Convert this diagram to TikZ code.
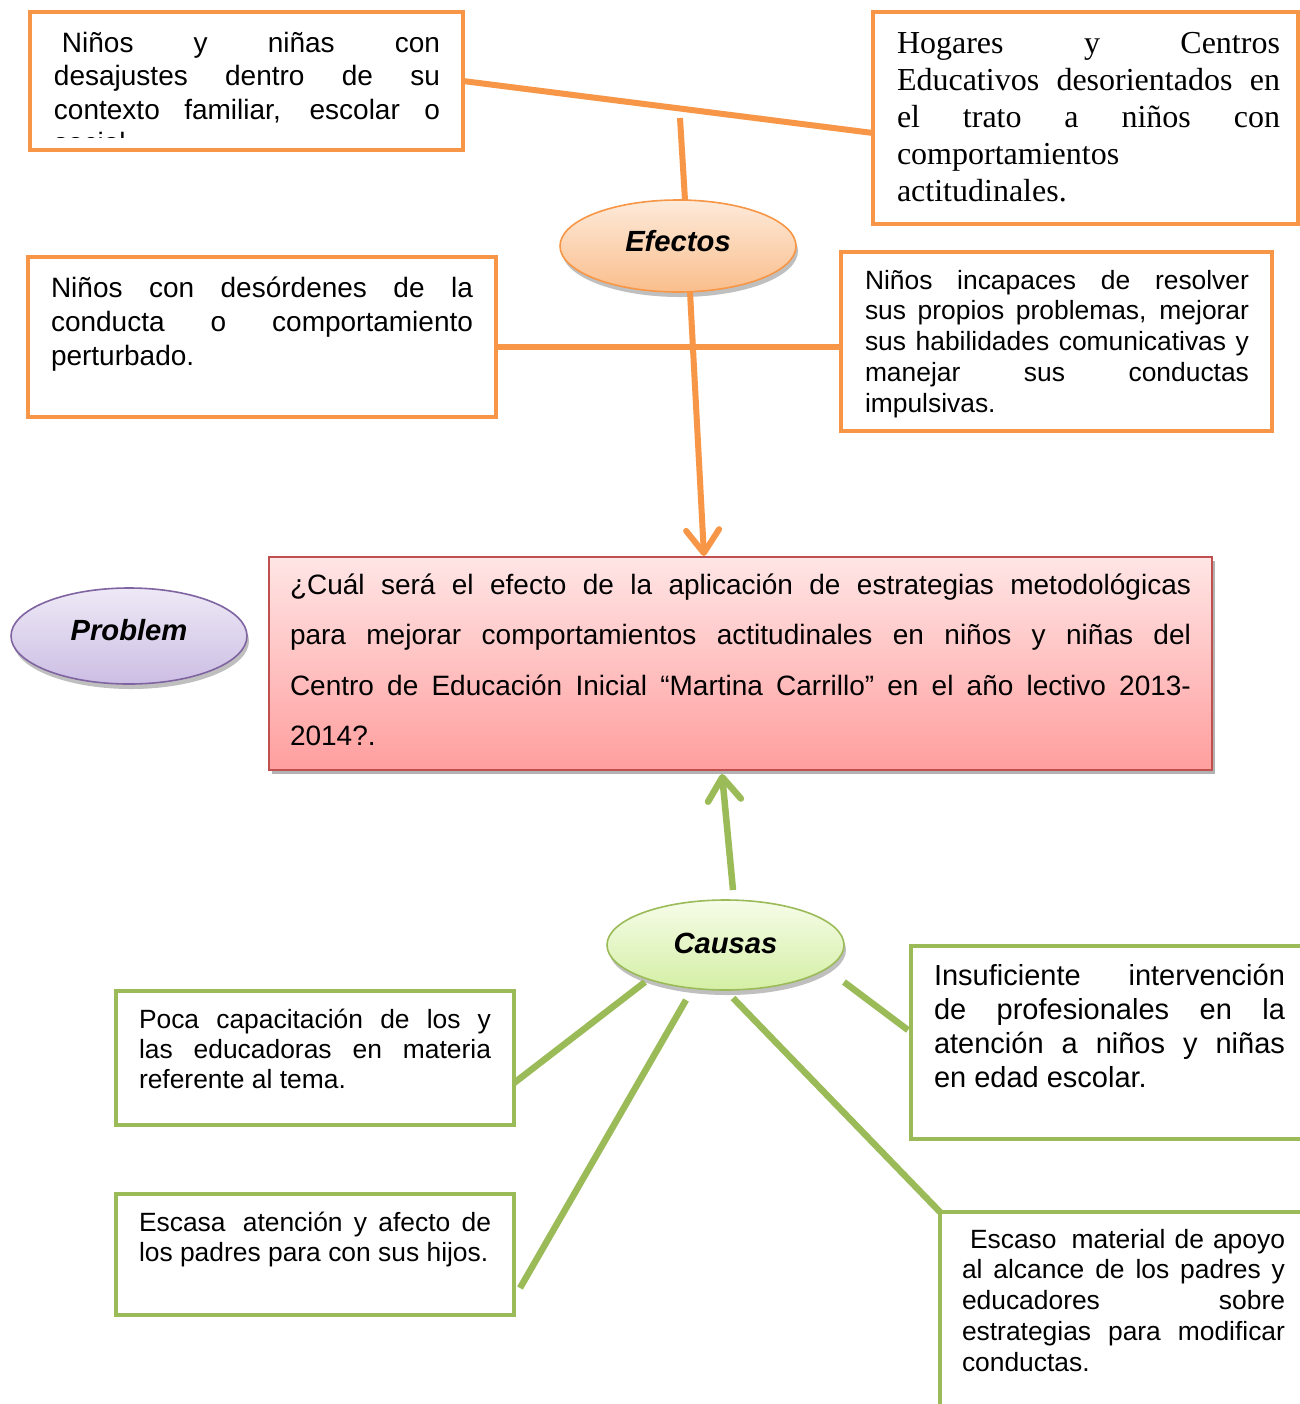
\documentclass[tikz,border=0pt]{standalone}
\usepackage{fontspec}
\setmainfont{Liberation Sans}
\newfontfamily\seriffont{Liberation Serif}
\usetikzlibrary{shapes.geometric,arrows.meta,shadows,calc}
\definecolor{org}{HTML}{F79646}
\definecolor{grn}{HTML}{9BBB59}
\definecolor{redb}{HTML}{C0504D}
\definecolor{purb}{HTML}{8064A2}
\newlength\jw
\newcommand\jl[1]{\hbox to \jw{\spaceskip=.25em plus 1fil minus .05em\relax #1}}
\newcommand\nl[1]{\hbox{#1}}
\newcommand\tblock[3]{\vtop{\jw=#1\relax\baselineskip=#2\relax\lineskiplimit=-50pt\relax #3}}
\begin{document}
\begin{tikzpicture}[x=0.5pt,y=-0.5pt,
  obox/.style={draw=org, line width=2.25pt, rectangle, inner sep=0pt, outer sep=0pt, anchor=north west, fill=white},
  gbox/.style={draw=grn, line width=2pt, rectangle, inner sep=0pt, outer sep=0pt, anchor=north west, fill=white},
  txt/.style={anchor=base west, inner sep=0pt, outer sep=0pt},
  oline/.style={draw=org, line width=3pt},
  gline/.style={draw=grn, line width=3.25pt},
  tipo/.style={-{Straight Barb[length=11.5pt,width=16.5pt,round]}},
  ell/.style={ellipse, inner sep=0pt, outer sep=0pt, line width=0.8pt,
    font=\fontsize{14.6}{17}\selectfont\bfseries\itshape, text height=10.5pt,
    drop shadow={shadow xshift=1pt, shadow yshift=-2.5pt, opacity=0.25, fill=black}},
]
\useasboundingbox (0,0) rectangle (1300,1404);
\fill[white] (0,0) rectangle (1300,1404);

% orange boxes
\node[obox, minimum width=216.5pt, minimum height=69pt] (tl) at (30,12) {};
\node[obox, minimum width=212.5pt, minimum height=106pt] (tr) at (873,12) {};
\node[obox, minimum width=234pt, minimum height=80pt] (ml) at (28,257) {};
\node[obox, minimum width=215.5pt, minimum height=89.5pt] (mr) at (841,252) {};

% green boxes
\node[gbox, minimum width=199pt, minimum height=67pt] (ba) at (116,991) {};
\node[gbox, minimum width=199pt, minimum height=60.5pt] (bb) at (116,1194) {};
\node[gbox, minimum width=200pt, minimum height=96.5pt] (bc) at (911,946) {};
\node[gbox, minimum width=190pt, minimum height=110pt] (bd) at (940,1212) {};

% problem box
\node[rectangle, draw=redb, line width=1pt, top color=red!10, bottom color={rgb,255:red,255;green,158;blue,158},
  minimum width=471.5pt, minimum height=106.5pt, inner sep=0pt,
  drop shadow={shadow xshift=1.5pt, shadow yshift=-2pt, opacity=0.3, fill=black}] (pb) at (740.5,663.5) {};

% ellipses
\node[ell, draw=org, top color={rgb,255:red,253;green,234;blue,218}, bottom color={rgb,255:red,250;green,190;blue,140},
  minimum width=118pt, minimum height=46pt, text depth=5.3pt] (ef) at (678,246) {Efectos};
\node[ell, draw=purb, top color={rgb,255:red,238;green,233;blue,246}, bottom color={rgb,255:red,204;green,190;blue,228},
  minimum width=118pt, minimum height=48pt, text depth=6.3pt] (pr) at (129,636) {Problem};
\node[ell, draw=grn, top color={rgb,255:red,246;green,252;blue,232}, bottom color={rgb,255:red,212;green,239;blue,165},
  minimum width=118.5pt, minimum height=45pt, text depth=2.3pt] (ca) at (725.5,945) {Causas};

% texts
\begin{scope}
\clip (34,16) rectangle (459,137);
\node[txt, font=\fontsize{14}{16.75}\selectfont] (tlt) at (54,52)
  {\tblock{193pt}{16.75pt}{\jl{\kern4pt Niños y niñas con}\jl{desajustes dentro de su}\jl{contexto familiar, escolar o}\nl{social}}};
\end{scope}
\node[txt, font=\seriffont\fontsize{16}{18.5}\selectfont] (trt) at (897,53)
  {\tblock{191.5pt}{18.5pt}{\jl{Hogares y Centros}\jl{Educativos desorientados en}\jl{el trato a niños con}\nl{comportamientos}\nl{actitudinales.}}};
\node[txt, font=\fontsize{14}{17}\selectfont] (mlt) at (51,297)
  {\tblock{211pt}{17pt}{\jl{Niños con desórdenes de la}\jl{conducta o comportamiento}\nl{perturbado.}}};
\node[txt, font=\fontsize{13.2}{15.4}\selectfont] (mrt) at (865,289)
  {\tblock{192pt}{15.4pt}{\jl{Niños incapaces de resolver}\jl{sus propios problemas, mejorar}\jl{sus habilidades comunicativas y}\jl{manejar sus conductas}\nl{impulsivas.}}};
\node[txt, font=\fontsize{14}{16}\selectfont] (pbt) at (290,594)
  {\tblock{450.5pt}{25.25pt}{\jl{¿Cuál será el efecto de la aplicación de estrategias metodológicas}\jl{para mejorar comportamientos actitudinales en niños y niñas del}\jl{Centro de Educación Inicial “Martina Carrillo” en el año lectivo 2013-}\nl{2014?.}}};
\node[txt, font=\fontsize{13.2}{15}\selectfont] (bat) at (139,1028)
  {\tblock{176pt}{15pt}{\jl{Poca capacitación de los y}\jl{las educadoras en materia}\nl{referente al tema.}}};
\node[txt, font=\fontsize{13.2}{15}\selectfont] (bbt) at (139,1231)
  {\tblock{176pt}{15pt}{\jl{Escasa \kern3pt atención y afecto de}\nl{los padres para con sus hijos.}}};
\node[txt, font=\fontsize{14.5}{17}\selectfont] (bct) at (934,985)
  {\tblock{175.5pt}{17pt}{\jl{Insuficiente intervención}\jl{de profesionales en la}\jl{atención a niños y niñas}\nl{en edad escolar.}}};
\node[txt, font=\fontsize{13.2}{15.4}\selectfont] (bdt) at (962,1248)
  {\tblock{161.5pt}{15.4pt}{\jl{\kern4pt Escaso \kern3pt material de apoyo}\jl{al alcance de los padres y}\jl{educadores sobre}\jl{estrategias para modificar}\nl{conductas.}}};

% orange connectors
\draw[oline] (tl.east) -- ([yshift=-7.5pt]tr.west);
\coordinate (ot) at (680,118);
\draw[oline] (ot) -- ([xshift=3.5pt]ef.north);
\draw[oline] ([yshift=-5pt]ml.east) -- ([yshift=-2.75pt]mr.west);
\draw[oline, tipo] ([xshift=6pt]ef.south) -- ([xshift=-18.25pt]pb.north);

% green connectors
\draw[gline, tipo] ([xshift=3.75pt,yshift=5pt]ca.north) -- ([xshift=-9.25pt,yshift=-1.5pt]pb.south);
\coordinate (g1) at (645,982);
\draw[gline] (g1) -- ([yshift=-12.5pt]ba.east);
\coordinate (g2) at (686,1000);
\draw[gline] (g2) -- ([xshift=3pt,yshift=-16.75pt]bb.east);
\coordinate (g3) at (733,998);
\draw[gline] (g3) -- (bd.north west);
\coordinate (g4) at (844,982);
\draw[gline] (g4) -- ([xshift=-1.5pt,yshift=6.25pt]bc.west);
\end{tikzpicture}
\end{document}
